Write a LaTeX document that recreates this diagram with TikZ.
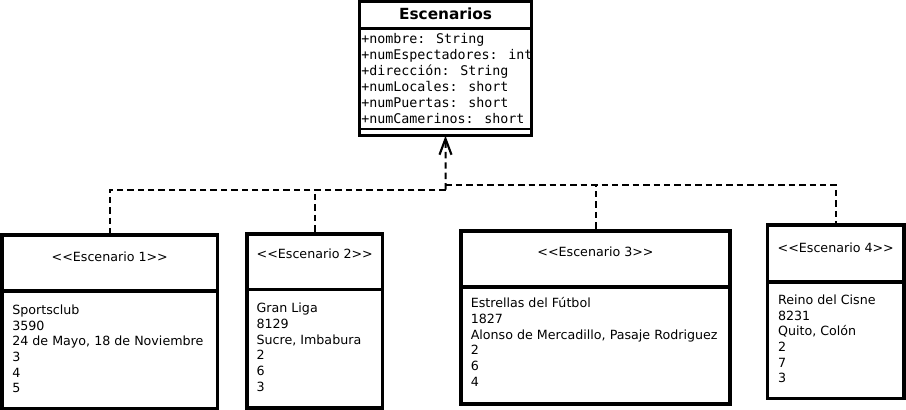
\documentclass[tikz,border=0pt]{standalone}
\usepackage{fontspec}
\setmainfont{DejaVu Sans}[Ligatures=TeXOff]
\newfontfamily\monof{DejaVu Sans Mono}[Ligatures=TeXOff]
\usetikzlibrary{arrows.meta,fit}
\begin{document}
\begin{tikzpicture}[x=0.75pt,y=-0.75pt,
  classbox/.style={draw, line width=2pt, inner sep=0pt, outer sep=0pt},
  objbox/.style={draw, line width=2.6pt, inner sep=0pt, outer sep=0pt},
  divline/.style={line width=2.6pt},
  topdiv/.style={line width=2pt},
  bodytext/.style={anchor=north west, inner sep=0pt, align=left, font=\fontsize{9.5}{11.8}\selectfont},
  stereo/.style={anchor=base, inner sep=0pt, font=\fontsize{9.5}{11.8}\selectfont},
  attrtext/.style={anchor=north west, inner sep=0pt, align=left, font=\monof\fontsize{10}{12}\selectfont},
  realize/.style={dashed, dash pattern=on 4.8pt off 3pt, line width=1.5pt},
  realizearrow/.style={realize, -{Straight Barb[length=12pt, width=9pt, line width=1.6pt]}}
]
\useasboundingbox (0,0) rectangle (906,410);

% ---- class Escenarios ----
\node[classbox, fit={(359.7,1.3) (531.3,135.7)}] (top) {};
\draw[topdiv] (359.7,28.7) -- (531.3,28.7);
\draw[topdiv] (359.7,129) -- (531.3,129);
\node[anchor=base, inner sep=0pt, font=\bfseries\fontsize{11.5}{13}\selectfont] (title) at (445.5,19.5) {Escenarios};
\node[attrtext] (attrs) at (361,32.1) {\strut+nombre: String\\+numEspectadores: int\\+dirección: String\\+numLocales: short\\+numPuertas: short\\+numCamerinos: short};

% ---- object boxes ----
\node[objbox, fit={(2,235) (217.5,408.3)}] (b1) {};
\draw[divline] (2,291) -- (217.5,291);
\node[stereo] (s1) at (109.75,261) {<<Escenario 1>>};
\node[bodytext] (t1) at (12,303) {\strut Sportsclub\\3590\\24 de Mayo, 18 de Noviembre\\3\\4\\5};

\node[objbox, fit={(247,233.8) (382.5,408)}] (b2) {};
\draw[divline] (247,289.7) -- (382.5,289.7);
\node[stereo] (s2) at (314.75,258.3) {<<Escenario 2>>};
\node[bodytext] (t2) at (256.3,301.3) {\strut Gran Liga\\8129\\Sucre, Imbabura\\2\\6\\3};

\node[objbox, fit={(461,231) (730,404)}] (b3) {};
\draw[divline] (461,287) -- (730,287);
\node[stereo] (s3) at (595.5,256.7) {<<Escenario 3>>};
\node[bodytext] (t3) at (470.5,296.3) {\strut Estrellas del Fútbol\\1827\\Alonso de Mercadillo, Pasaje Rodriguez\\2\\6\\4};

\node[objbox, fit={(767.5,225) (904,398.7)}] (b4) {};
\draw[divline] (767.5,282) -- (904,282);
\node[stereo] (s4) at (835.75,252) {<<Escenario 4>>};
\node[bodytext] (t4) at (777.8,293) {\strut Reino del Cisne\\8231\\Quito, Colón\\2\\7\\3};

% ---- connectors ----
\coordinate (jl) at (445.5,189.5);
\coordinate (jr) at (445.5,185);
\draw[realize] (jl) -| (b1.north);
\draw[realize] (jl) -| (b2.north);
\draw[realize] (jr) -| (b3.north);
\draw[realize] (jr) -| (b4.north);
\draw[realizearrow] (jl) -- (top.south);
\end{tikzpicture}
\end{document}
